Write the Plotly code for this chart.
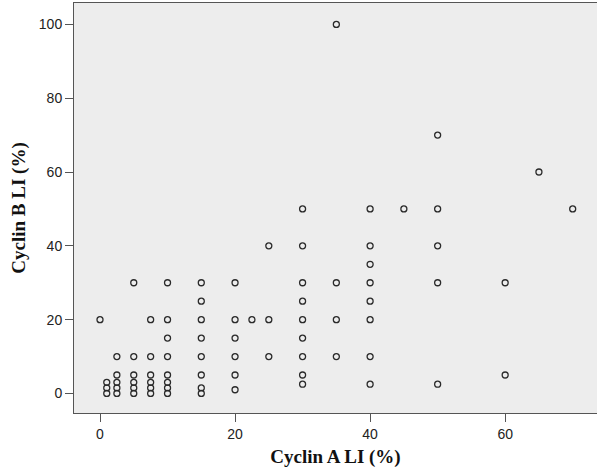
import plotly.graph_objects as go

# Cyclin A LI (%) values and corresponding Cyclin B LI (%) values
cyclin_a = [
    0,
    1, 1, 1,
    2.5, 2.5, 2.5, 2.5, 2.5,
    5, 5, 5, 5, 5, 5,
    7.5, 7.5, 7.5, 7.5, 7.5, 7.5,
    10, 10, 10, 10, 10, 10, 10, 10,
    15, 15, 15, 15, 15, 15, 15, 15,
    20, 20, 20, 20, 20, 20,
    22.5,
    25, 25, 25,
    30, 30, 30, 30, 30, 30, 30, 30, 30,
    35, 35, 35, 35,
    40, 40, 40, 40, 40, 40, 40, 40,
    45,
    50, 50, 50, 50, 50,
    60, 60,
    65,
    70,
]
cyclin_b = [
    20,
    0, 1.5, 3,
    0, 1.5, 3, 5, 10,
    0, 1.5, 3, 5, 10, 30,
    0, 1.5, 3, 5, 10, 20,
    0, 1.5, 3, 5, 10, 15, 20, 30,
    0, 1.5, 5, 10, 15, 20, 25, 30,
    1, 5, 10, 15, 20, 30,
    20,
    10, 20, 40,
    2.5, 5, 10, 15, 20, 25, 30, 40, 50,
    10, 20, 30, 100,
    2.5, 10, 20, 25, 30, 35, 40, 50,
    50,
    2.5, 30, 40, 50, 70,
    5, 30,
    60,
    50,
]

x_ticks = [0, 20, 40, 60]
y_ticks = [0, 20, 40, 60, 80, 100]

fig = go.Figure(
    go.Scatter(
        x=cyclin_a,
        y=cyclin_b,
        mode="markers",
        marker=dict(
            symbol="circle",
            size=6,
            color="rgba(0,0,0,0)",
            line=dict(color="#2a2a2a", width=1.3),
        ),
        hoverinfo="x+y",
    )
)

tick_font = dict(family="Liberation Sans, Arial, sans-serif", size=14, color="#222222")
title_font = dict(family="Liberation Serif, Times New Roman, serif", size=19, color="#111111", weight="bold")

fig.update_layout(
    width=597,
    height=471,
    margin=dict(l=74, r=0, t=3, b=58),
    paper_bgcolor="white",
    plot_bgcolor="#ededed",
    showlegend=False,
    xaxis=dict(
        range=[-3.85, 73.6],
        tickvals=x_ticks,
        ticks="outside",
        ticklen=8,
        tickwidth=1,
        tickcolor="#555555",
        showline=True,
        linecolor="#555555",
        linewidth=1,
        mirror=True,
        showgrid=False,
        zeroline=False,
        tickfont=tick_font,
        title=dict(text="Cyclin A LI (%)", font=title_font, standoff=8),
        automargin=False,
    ),
    yaxis=dict(
        range=[-5.3, 105.8],
        tickvals=y_ticks,
        ticks="outside",
        ticklen=8,
        tickwidth=1,
        tickcolor="#555555",
        showline=True,
        linecolor="#555555",
        linewidth=1,
        showgrid=False,
        zeroline=False,
        tickfont=tick_font,
        title=dict(text="Cyclin B LI (%)", font=title_font, standoff=8),
        automargin=False,
    ),
)

fig.write_html(
    "out.html",
    config={"displayModeBar": False},
    post_script="document.body.style.margin='0px';",
)
